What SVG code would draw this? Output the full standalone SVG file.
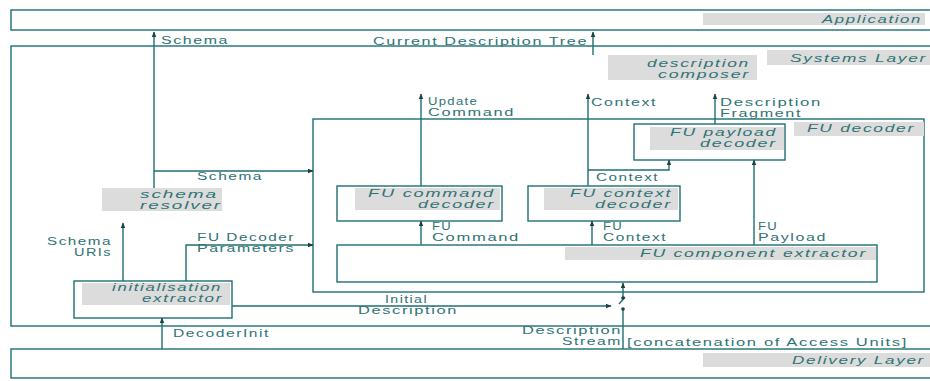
<svg xmlns="http://www.w3.org/2000/svg" width="930" height="381" viewBox="0 0 930 381">
<style>
.bx{fill:none;stroke:#1f6f72;stroke-width:1.4}
.ln{fill:none;stroke:#1f6f72;stroke-width:1.4}
.gr{fill:#dcdcdc}
.t{font-family:"Liberation Sans",Arial,sans-serif;font-size:10px;letter-spacing:1px;fill:#2f7375}
.i{font-style:italic}
.dot{fill:#1f3f40}
</style>
<defs>
<marker id="ah" viewBox="0 0 10 10" refX="9" refY="5" markerWidth="6" markerHeight="6" orient="auto" markerUnits="userSpaceOnUse">
<path d="M0,1 L10,5 L0,9 z" fill="#1f3f40"/>
</marker>
</defs>
<rect width="930" height="381" fill="#ffffff"/>

<g id="application">
<rect class="bx" x="11" y="10" width="930" height="20"/>
<rect class="gr" x="703" y="13" width="222" height="12"/>
<text class="t i" x="822" y="23" textLength="100" lengthAdjust="spacingAndGlyphs">Application</text>
</g>

<g id="systems-layer">
<rect class="bx" x="11" y="46" width="930" height="280"/>
<rect class="gr" x="767" y="50" width="170" height="15"/>
<text class="t i" x="790" y="62" textLength="137" lengthAdjust="spacingAndGlyphs">Systems Layer</text>
</g>

<g id="delivery-layer">
<rect class="bx" x="11" y="349" width="930" height="29"/>
<rect class="gr" x="703" y="353" width="230" height="14"/>
<text class="t i" x="792" y="364" textLength="133" lengthAdjust="spacingAndGlyphs">Delivery Layer</text>
</g>

<g id="description-composer">
<rect class="gr" x="608" y="55" width="149" height="25"/>
<text class="t i" x="647" y="67" textLength="103" lengthAdjust="spacingAndGlyphs">description</text>
<text class="t i" x="658" y="78" textLength="92" lengthAdjust="spacingAndGlyphs">composer</text>
</g>

<g id="fu-decoder">
<rect class="bx" x="313" y="119" width="611" height="173"/>
<rect class="gr" x="794" y="122" width="130" height="14"/>
<text class="t i" x="807" y="132" textLength="108" lengthAdjust="spacingAndGlyphs">FU decoder</text>
</g>

<g id="fu-payload-decoder">
<rect class="gr" x="650" y="127" width="134" height="23"/>
<rect class="bx" x="634" y="124" width="151" height="36"/>
<text class="t i" x="670" y="136" textLength="107" lengthAdjust="spacingAndGlyphs">FU payload</text>
<text class="t i" x="700" y="147" textLength="77" lengthAdjust="spacingAndGlyphs">decoder</text>
</g>

<g id="fu-command-decoder">
<rect class="gr" x="355" y="188" width="145" height="22"/>
<rect class="bx" x="337" y="186" width="165" height="35"/>
<text class="t i" x="368" y="197" textLength="127" lengthAdjust="spacingAndGlyphs">FU command</text>
<text class="t i" x="418" y="208" textLength="77" lengthAdjust="spacingAndGlyphs">decoder</text>
</g>

<g id="fu-context-decoder">
<rect class="gr" x="544" y="188" width="134" height="22"/>
<rect class="bx" x="528" y="186" width="152" height="35"/>
<text class="t i" x="570" y="197" textLength="102" lengthAdjust="spacingAndGlyphs">FU context</text>
<text class="t i" x="595" y="208" textLength="77" lengthAdjust="spacingAndGlyphs">decoder</text>
</g>

<g id="fu-component-extractor">
<rect class="gr" x="565" y="247" width="311" height="13"/>
<rect class="bx" x="337" y="245" width="540" height="37"/>
<text class="t i" x="640" y="257" textLength="227" lengthAdjust="spacingAndGlyphs">FU component extractor</text>
</g>

<g id="schema-resolver">
<rect class="gr" x="102" y="188" width="120" height="23"/>
<text class="t i" x="140" y="198" textLength="78" lengthAdjust="spacingAndGlyphs">schema</text>
<text class="t i" x="140" y="209" textLength="82" lengthAdjust="spacingAndGlyphs">resolver</text>
</g>

<g id="initialisation-extractor">
<rect class="gr" x="82" y="283" width="148" height="22"/>
<rect class="bx" x="74" y="281" width="158" height="37"/>
<text class="t i" x="112" y="291" textLength="110" lengthAdjust="spacingAndGlyphs">initialisation</text>
<text class="t i" x="142" y="302" textLength="81" lengthAdjust="spacingAndGlyphs">extractor</text>
</g>

<g id="connectors">
<path class="ln" d="M154,188 V32" marker-end="url(#ah)"/>
<path class="ln" d="M154,171 H313" marker-end="url(#ah)"/>
<path class="ln" d="M593,55 V32" marker-end="url(#ah)"/>
<path class="ln" d="M421,186 V94" marker-end="url(#ah)"/>
<path class="ln" d="M588,186 V94" marker-end="url(#ah)"/>
<path class="ln" d="M588,170 H669 V160" marker-end="url(#ah)"/>
<path class="ln" d="M715,124 V94" marker-end="url(#ah)"/>
<path class="ln" d="M754,245 V160" marker-end="url(#ah)"/>
<path class="ln" d="M421,245 V221" marker-end="url(#ah)"/>
<path class="ln" d="M592,245 V221" marker-end="url(#ah)"/>
<path class="ln" d="M123,281 V223" marker-end="url(#ah)"/>
<path class="ln" d="M186,281 V245 H313" marker-end="url(#ah)"/>
<path class="ln" d="M232,306 H611" marker-end="url(#ah)"/>
<path class="ln" d="M623,298 V283" marker-end="url(#ah)"/>
<path class="ln" d="M619,304 L625,297"/>
<path class="ln" d="M623,309 V349"/>
<circle class="dot" cx="623" cy="298" r="1.8"/>
<circle class="dot" cx="623" cy="309" r="1.8"/>
<path class="ln" d="M162,349 V318" marker-end="url(#ah)"/>

<text class="t" x="161" y="44" textLength="68" lengthAdjust="spacingAndGlyphs">Schema</text>
<text class="t" x="373" y="45" textLength="215" lengthAdjust="spacingAndGlyphs">Current Description Tree</text>
<text class="t" x="428" y="105" textLength="50" lengthAdjust="spacingAndGlyphs">Update</text>
<text class="t" x="428" y="116" textLength="87" lengthAdjust="spacingAndGlyphs">Command</text>
<text class="t" x="591" y="106" textLength="66" lengthAdjust="spacingAndGlyphs">Context</text>
<text class="t" x="720" y="106" textLength="102" lengthAdjust="spacingAndGlyphs">Description</text>
<text class="t" x="720" y="117" textLength="82" lengthAdjust="spacingAndGlyphs">Fragment</text>
<text class="t" x="596" y="181" textLength="63" lengthAdjust="spacingAndGlyphs">Context</text>
<text class="t" x="197" y="180" textLength="66" lengthAdjust="spacingAndGlyphs">Schema</text>
<text class="t" x="432" y="230" textLength="20" lengthAdjust="spacingAndGlyphs">FU</text>
<text class="t" x="432" y="241" textLength="88" lengthAdjust="spacingAndGlyphs">Command</text>
<text class="t" x="603" y="230" textLength="20" lengthAdjust="spacingAndGlyphs">FU</text>
<text class="t" x="603" y="241" textLength="64" lengthAdjust="spacingAndGlyphs">Context</text>
<text class="t" x="758" y="230" textLength="20" lengthAdjust="spacingAndGlyphs">FU</text>
<text class="t" x="758" y="241" textLength="69" lengthAdjust="spacingAndGlyphs">Payload</text>
<text class="t" x="47" y="245" textLength="65" lengthAdjust="spacingAndGlyphs">Schema</text>
<text class="t" x="74" y="256" textLength="38" lengthAdjust="spacingAndGlyphs">URIs</text>
<text class="t" x="197" y="241" textLength="98" lengthAdjust="spacingAndGlyphs">FU Decoder</text>
<text class="t" x="197" y="252" textLength="98" lengthAdjust="spacingAndGlyphs">Parameters</text>
<text class="t" x="385" y="303" textLength="43" lengthAdjust="spacingAndGlyphs">Initial</text>
<text class="t" x="358" y="314" textLength="100" lengthAdjust="spacingAndGlyphs">Description</text>
<text class="t" x="173" y="337" textLength="97" lengthAdjust="spacingAndGlyphs">DecoderInit</text>
<text class="t" x="522" y="334" textLength="100" lengthAdjust="spacingAndGlyphs">Description</text>
<text class="t" x="562" y="345" textLength="60" lengthAdjust="spacingAndGlyphs">Stream</text>
<text class="t" x="627" y="346" textLength="281" lengthAdjust="spacingAndGlyphs">[concatenation of Access Units]</text>
</g>
</svg>
